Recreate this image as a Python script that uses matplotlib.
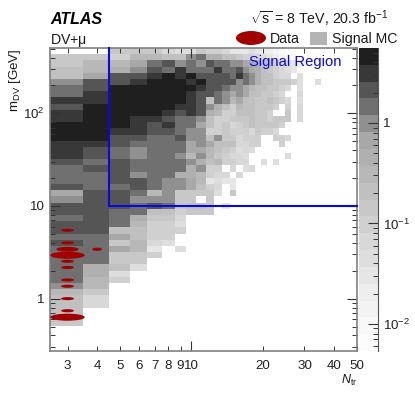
import numpy as np
import matplotlib
matplotlib.use('Agg')
import matplotlib.pyplot as plt
from matplotlib.collections import EllipseCollection
from matplotlib.colors import ListedColormap, BoundaryNorm
from matplotlib.patches import Ellipse, Rectangle

plt.rcParams['font.family'] = ['Liberation Sans', 'DejaVu Sans']
plt.rcParams['mathtext.fontset'] = 'custom'
plt.rcParams['mathtext.rm'] = 'Liberation Sans'
plt.rcParams['mathtext.it'] = 'Liberation Sans:italic'
plt.rcParams['mathtext.bf'] = 'Liberation Sans:bold'

# colour band of each cell, 0 = lightest, 17 = darkest, -1 = empty, top row first
n3 = [-1, 8, 8, 9, 9, 13, 14, 14, 16, 15, 16, 16, 17, 17, 17, 16, 16, 16, 15, 14, 14, 14, 15, 12, 13, 15, 15, 14, 15, 15, 14, 15, 14, 14, 14, 14, 14, 14, 13, 10, 9, 9, 9, 10, 8]
n4 = [-1, 8, 10, 10, 12, 15, 15, 16, 16, 17, 17, 17, 17, 17, 17, 16, 15, 15, 14, 15, 14, 14, 14, 15, 15, 15, 15, 15, 15, 15, 14, 14, 14, 14, 14, 11, 11, 10, 10, 8, 6, 6]
n5 = [8, 7, 10, 11, 15, 15, 17, 17, 17, 17, 17, 17, 17, 16, 15, 15, 14, 14, 15, 15, 15, 15, 14, 15, 15, 15, 14, 14, 14, 9, 12, 8, 12, 8, 8, 9, 5, 7]
n6 = [8, 10, 12, 13, 15, 16, 17, 17, 17, 17, 17, 16, 16, 16, 15, 14, 13, 13, 14, 14, 13, 15, 15, 14, 13, 14, 14, 11, 10, 9, 9, 10, 10, 8, 8, 5]
n7 = [8, 10, 14, 15, 16, 17, 17, 17, 17, 17, 17, 16, 15, 15, 14, 14, 14, 14, 14, 14, 14, 14, 14, 10, 13, 15, 9, 8, 7, 7, 7, 6, 4, 7]
n8 = [6, 9, 15, 14, 17, 17, 17, 17, 17, 17, 16, 15, 16, 15, 14, 14, 14, 14, 14, 14, 14, 13, 13, 13, 13, 14, 9, 8, 7, 7, 7, 5]
n9 = [5, 9, 13, 16, 16, 17, 17, 17, 17, 16, 15, 14, 14, 14, 15, 14, 14, 13, 14, 14, 11, 13, 13, 8, 8, 8, 7, 6, 5, 7, -1, -1, 5]
n10 = [5, 13, 14, 14, 17, 16, 17, 16, 16, 16, 16, 14, 14, 13, 13, 12, 12, 10, 13, 11, 11, 12, 12, 8, 8, 9, 8]
n11 = [8, 14, 13, 14, 15, 17, 16, 15, 15, 15, 15, 13, 12, 13, 13, 13, 12, 13, 11, 13, 10, 10, 9, 8, -1, 9, 8]
n12 = [7, 11, 15, 14, 15, 15, 15, 15, 9, 13, 11, 9, 9, 7, 9, 12, 10, 10, 9, 7, 7, 4, 7, 8, 8, 8, 8]
n13 = [7, 11, 14, 16, 15, 15, 15, 14, 14, 11, 10, 7, 7, 7, 13, 9, 9, 8, 10, 7, 6, 5, 6, 5]
n14 = [6, 9, 14, 14, 15, 15, 14, 13, 13, 9, 7, 7, 8, 8, 8, 9, 8, 7, 7, -1, 6, 4, -1, -1, -1, 4]
n15 = [4, 9, 13, 14, 14, 15, 13, 12, 10, 7, 7, 8, 6, 7, 8, 9, 7, 6, 7, 6, -1, 4, 4, 8]
left_cols = [n3, n4, n5, n6, n7, n8, n9, n10, n11, n12, n13, n14, n15]

# the thin cells beyond Ntr = 15, given row by row from the top
tail_rows = [
    [4, 4, 5, 4, 3, 3, 2, 1, 0],
    [8, 7, 7, 6, 5, 4, 3, 2, 1],
    [13, 12, 12, 11, 9, 8, 7, 6, 5, 4, 3],
    [15, 13, 12, 11, 9, 8, 7, 6, 5, 4],
    [16, 14, 13, 11, 9, 9, 7, 6, 6, -1, 5],
    [13, 14, 13, 11, 9, 9, 8, 8, 8, 7, 5, -1, -1, 5],
    [13, 12, 10, 9, 9, 8, 8, 7, 6, -1, 5],
    [13, 12, 9, 9, 8, 8, 7, 6, -1, -1, 6],
    [12, 9, 9, 8, 8, 9, 8, 7, 6, -1, 5],
    [10, 9, 9, 8, 8, 8, 7, -1, 7, -1, 6],
    [9, 9, 9, 8, 8, 7, -1, -1, 8, -1, 6],
    [8, 8, 9, 8, 8, 7, 8, 8, 8, -1, 6],
    [7, 8, 9, 8, 8, 8, 8, 7],
    [7, 7, 6, 8, 7, 7, 6],
    [6, 7, 7, 7, -1, -1, 7, 7, 6],
    [6, 6, 7, 7, -1, -1, -1, 7],
    [5, 6, 5],
    [6, 5, -1, -1, -1, -1, -1, -1, 5],
    [6, 6, -1, -1, 5, -1, 5],
    [-1, 5, 6],
    [6],
]

band_greys = ['#fcfcfc', '#f8f8f8', '#f3f3f3', '#eeeeee', '#e6e6e6', '#dedede', '#d8d8d8', '#d0d0d0', '#c8c8c8',
              '#c0c0c0', '#b8b8b8', '#b0b0b0', '#a8a8a8', '#909090', '#707070', '#555555', '#383838', '#1f1f1f']

# data events
data_ntr = [3, 3, 3, 3, 3, 3, 3, 3, 3, 3, 3, 4]
data_mdv = [5.47, 4.0, 3.41, 2.94, 2.53, 2.17, 1.59, 1.36, 1.0, 0.74, 0.63, 3.41]
data_cnt = [1, 1, 3, 7, 1, 1, 1, 1, 1, 1, 7, 1]

x_tick_vals = [3, 4, 5, 6, 7, 8, 9, 20, 30, 40, 50]
x_tick_labels = ['3', '4', '5', '6', '7', '8', '9', '20', '30', '40', '50']

n_rows = 49
n_cols = 13 + 20
bands = np.full((n_rows, n_cols), -1)
for i, col in enumerate(left_cols):
    bands[:len(col), i] = col
for r, row in enumerate(tail_rows):
    bands[r, 13:13 + len(row)] = row

band_edges = np.logspace(-2.27, 0.746, 19)
band_mid = np.sqrt(band_edges[:-1] * band_edges[1:])
z = np.ma.masked_less(bands, 0)
z = np.ma.array(band_mid[np.clip(bands, 0, 17)], mask=z.mask)

xlo, xhi = 2.53, 50.0
ylo, yhi = 0.272, 507.0
x_edges = np.concatenate([np.arange(2.5, 15.6, 1.0), np.geomspace(15.5, 50.0, 21)[1:]])
x_edges[0] = xlo
y_edges = np.geomspace(yhi, ylo, n_rows + 1)

W, H = 415.0, 399.0
fig = plt.figure(figsize=(4.15, 3.99), dpi=100)
ax = fig.add_axes([50 / W, 1 - 351 / H, 307 / W, 303 / H])
cax = fig.add_axes([359 / W, 1 - 351 / H, 18.5 / W, 303 / H])

cmap = ListedColormap(band_greys)
cmap.set_bad('white')
norm = BoundaryNorm(band_edges, 18)
ax.pcolormesh(x_edges, y_edges, z, cmap=cmap, norm=norm, linewidth=0, rasterized=True)
ax.set_xscale('log')
ax.set_yscale('log')
ax.set_xlim(xlo, xhi)
ax.set_ylim(ylo, yhi)

# signal region
blue = '#0808e0'
ax.plot([4.5, 4.5, 50], [yhi, 10, 10], color=blue, lw=1.5, solid_joinstyle='miter', clip_on=False, zorder=4)
ax.text(249 / W, 1 - 62 / H, 'Signal Region', color=blue, fontsize=10.6, va='center', ha='left',
        transform=fig.transFigure, zorder=5)

# data ellipses, size grows with the root of the count
cnt = np.array(data_cnt, dtype=float)
bin_w = np.where(np.array(data_ntr) == 3, 13.0, 10.0)
ells = EllipseCollection(bin_w * np.sqrt(cnt), 2.4 * np.sqrt(cnt) + 0.7, np.zeros(len(cnt)), units='dots',
                         offsets=np.column_stack([data_ntr, data_mdv]), offset_transform=ax.transData,
                         facecolors='#a00000', edgecolors='none', zorder=3)
ax.add_collection(ells)

tick_col = '#333333'
spine_col = '#808080'
ax.set_xticks([10])
ax.set_xticklabels(['10'])
ax.set_xticks(x_tick_vals, labels=x_tick_labels, minor=True)
ax.set_yticks([1, 10, 100])
ax.set_yticklabels(['1', '10', r'$\mathregular{10^{2}}$'])
ax.tick_params(which='major', direction='in', top=True, right=True, length=7, width=0.8, color=tick_col,
               labelsize=9.6, labelcolor='#222222', pad=4)
ax.tick_params(which='minor', direction='in', top=True, right=True, length=3.6, width=0.7, color=tick_col,
               labelsize=9.6, labelcolor='#222222', pad=4)
ax.tick_params(axis='x', which='both', pad=6.5)
for s in ax.spines.values():
    s.set_color(spine_col)
    s.set_linewidth(1.2)

# colour scale
cax.pcolormesh([0, 1], band_edges, band_mid[:, None], cmap=cmap, norm=norm, linewidth=0, rasterized=True)
cax.set_yscale('log')
cax.set_ylim(band_edges[0], band_edges[-1])
cax.set_xticks([])
cax.set_yticks([0.01, 0.1, 1])
cax.set_yticklabels([r'$\mathregular{10^{-2}}$', r'$\mathregular{10^{-1}}$', '1'])
cax.tick_params(which='major', direction='in', left=False, right=True, labelleft=False, labelright=True,
                length=7, width=0.8, color=tick_col, labelsize=9.6, labelcolor='#222222', pad=4)
cax.tick_params(which='minor', direction='in', left=False, right=True, labelleft=False, length=3.6, width=0.7,
                color=tick_col)
for k in ['left', 'top', 'bottom']:
    cax.spines[k].set_visible(False)
cax.spines['right'].set_color('#555555')
cax.spines['right'].set_linewidth(0.8)

# labels and header
txt = '#1a1a1a'
fig.text(50 / W, 1 - 24 / H, 'ATLAS', fontsize=11.5, fontweight='bold', fontstyle='italic', color='black')
fig.text(50 / W, 1 - 44 / H, r'DV+$\mathregular{\mu}$', fontsize=10.2, color=txt)
fig.text(250 / W, 1 - 24 / H, r'$\mathregular{\sqrt{s}}$ = 8 TeV, 20.3 fb$\mathregular{^{-1}}$', fontsize=10.2, color=txt)
fig.text(270 / W, 1 - 43 / H, 'Data', fontsize=10.2, color=txt)
fig.text(332 / W, 1 - 43 / H, 'Signal MC', fontsize=10.2, color=txt)
fig.add_artist(Ellipse((251 / W, 1 - 38 / H), 30 / W, 14 / H, transform=fig.transFigure, fc='#a00000', ec='none'))
fig.add_artist(Rectangle((310 / W, 1 - 44.5 / H), 17 / W, 13 / H, transform=fig.transFigure, fc='#b4b4b4', ec='none'))
fig.text(357 / W, 1 - 384 / H, r'$\mathit{N}_{\mathregular{tr}}$', fontsize=9, color=txt, ha='right')
fig.text(15 / W, 1 - 48 / H, r'm$\mathregular{_{DV}}$ [GeV]', fontsize=9.6, color=txt, rotation=90, ha='center', va='top')

fig.savefig('out.png', dpi=100)
